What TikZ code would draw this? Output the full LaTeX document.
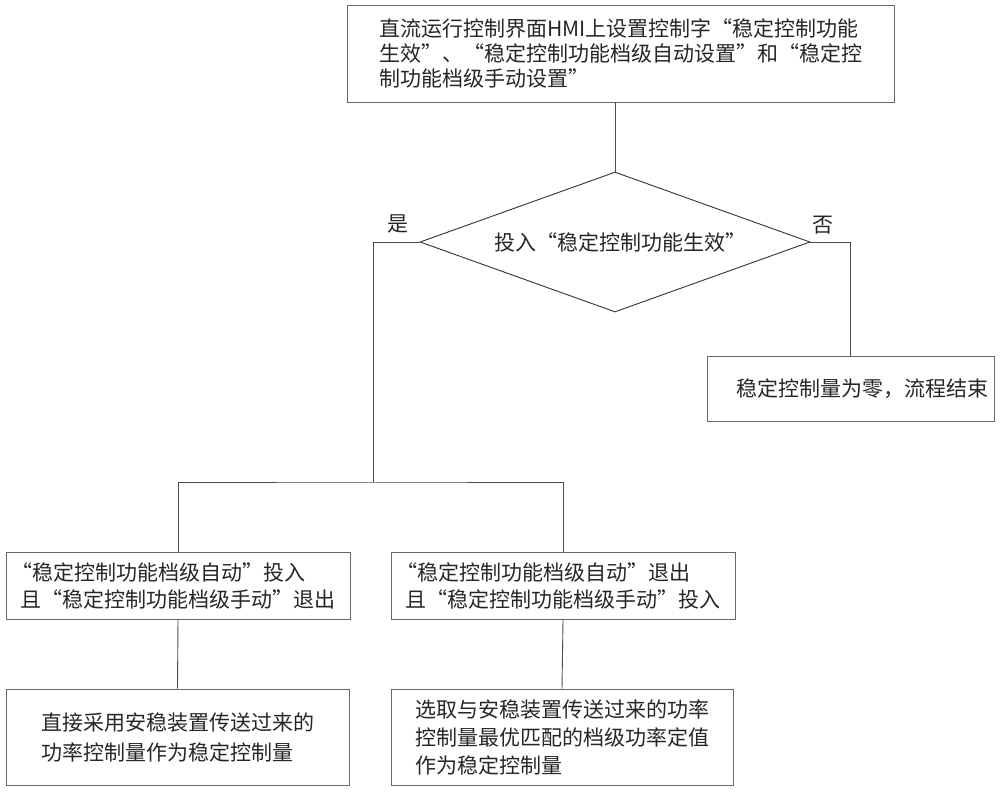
\documentclass[tikz,border=0pt]{standalone}
\usepackage{fontspec}
\setmainfont{Noto Sans CJK SC}
\usetikzlibrary{shapes.geometric}
\begin{document}
\begin{tikzpicture}[x=1pt,y=-1pt,
  box/.style={draw=black!60, line width=0.9pt, rectangle, inner sep=0pt, align=left, text=black!85, font=\fontsize{21}{27}\selectfont},
  link/.style={draw=black!70, line width=0.9pt},
  lbl/.style={font=\fontsize{21}{25}\selectfont, inner sep=0pt, text=black!85}]
\useasboundingbox (0,0) rectangle (1000,794);
\node[box, minimum width=547pt, minimum height=97pt, font=\fontsize{21}{25}\selectfont] (top) at (620.5,53.5)
  {直流运行控制界面HMI上设置控制字“稳定控制功能\\生效”、“稳定控制功能档级自动设置”和“稳定控\\制功能档级手动设置”};
\node[diamond, draw=black!80, line width=0.9pt, inner sep=0pt, shape aspect=2.8,
  minimum width=390pt, minimum height=140pt, text=black!85, font=\fontsize{21}{25}\selectfont] (dec) at (615,242)
  {\hspace*{10pt}投入“稳定控制功能生效”};
\node[box, minimum width=287pt, minimum height=65pt, text width=275pt, inner xsep=6pt, align=right] (nz) at (850.5,388.5)
  {稳定控制量为零，流程结束};
\node[box, minimum width=344pt, minimum height=67pt] (b1) at (178,585.5)
  {\hspace*{-9pt}“稳定控制功能档级自动”投入\\且“稳定控制功能档级手动”退出};
\node[box, minimum width=344pt, minimum height=67pt] (b2) at (563,585.5)
  {\hspace*{-9pt}“稳定控制功能档级自动”退出\\且“稳定控制功能档级手动”投入};
\node[box, minimum width=343pt, minimum height=96pt, font=\fontsize{21}{30}\selectfont] (b3) at (177.5,737)
  {直接采用安稳装置传送过来的\\功率控制量作为稳定控制量};
\node[box, minimum width=342pt, minimum height=96pt, font=\fontsize{21}{28}\selectfont] (b4) at (562,737)
  {选取与安稳装置传送过来的功率\\控制量最优匹配的档级功率定值\\作为稳定控制量};
\node[lbl] (yes) at (398,224) {是};
\node[lbl] (no) at (823,225) {否};
\coordinate (j) at (373,482);
\draw[link] (dec.north |- top.south) -- (dec.north);
\draw[link] (dec.west) -| (j);
\draw[link] (b1.north) |- (j) -| (b2.north);
\draw[link] (dec.east) -| (nz.north);
\draw[link] (b1.south) -- (b3.north);
\draw[link] (b2.south) -- (b4.north);
\end{tikzpicture}
\end{document}
